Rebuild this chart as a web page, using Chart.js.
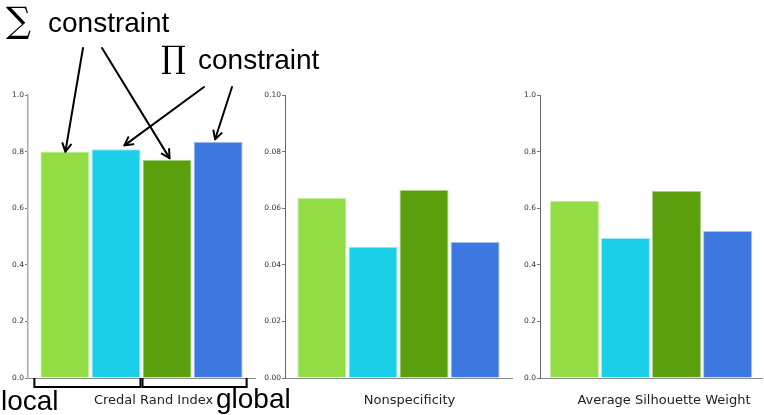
<!DOCTYPE html>
<html>
<head>
<meta charset="utf-8">
<script src="https://cdn.jsdelivr.net/npm/chart.js@4"></script>
<style>
  html, body { margin: 0; padding: 0; background: #fff; }
  #wrap { position: relative; width: 764px; height: 415px; overflow: hidden; background: #fff; }
  canvas { position: absolute; top: 0; }
</style>
</head>
<body>
<div id="wrap">
  <canvas id="c0"></canvas>
  <canvas id="c1"></canvas>
  <canvas id="c2"></canvas>
</div>
<script>
// Metrics, one panel each
const metrics = ['Credal Rand Index', 'Nonspecificity', 'Average Silhouette Weight'];

// Scores per aggregation (local/global) and constraint type (sum/product)
const localSum   = [0.800, 0.0636, 0.626];
const localProd  = [0.808, 0.0464, 0.495];
const globalSum  = [0.771, 0.0664, 0.661];
const globalProd = [0.835, 0.0481, 0.519];

// Value axis per panel
const axisMax      = [1.0, 0.10, 1.0];
const axisStep     = [0.2, 0.02, 0.2];
const tickDecimals = [1, 2, 1];

// Annotation labels
const sumLabel  = 'constraint';
const prodLabel = 'constraint';
const groupLabels = ['local', 'global'];

const seriesStyle = [
  { fill: '#92dc46', edge: '#c4ee9c' },
  { fill: '#1bcfe9', edge: '#9ae9f5' },
  { fill: '#5aa00e', edge: '#a9d083' },
  { fill: '#3d78e0', edge: '#a6c0f1' }
];
const seriesData = [localSum, localProd, globalSum, globalProd];

const H = 415;
// left/right are page coordinates; axisW is the room left of each value axis
const panels = [
  { id: 'c0', left: 0,   width: 330, axisW: 28, right: 255, catPct: 0.90, labelOffset: 12, axisColor: '#aaaaaa', axisWidth: 1.5 },
  { id: 'c1', left: 258, width: 258, axisW: 27, right: 512, catPct: 0.90, labelOffset: 11, axisColor: '#666666', axisWidth: 1 },
  { id: 'c2', left: 516, width: 248, axisW: 24, right: 762, catPct: 0.92, labelOffset: 13, axisColor: '#666666', axisWidth: 1 }
];

// Arrows, brackets and group labels around the first panel
const annotate = {
  id: 'annotate',
  afterDraw(chart) {
    const ctx = chart.ctx;
    const bars = [0, 1, 2, 3].map(i => chart.getDatasetMeta(i).data[0]);
    const base = chart.chartArea.bottom;

    ctx.save();
    ctx.fillStyle = '#000';
    ctx.textBaseline = 'alphabetic';
    ctx.textAlign = 'left';

    ctx.font = '35px "DejaVu Serif"';
    ctx.fillText('\u2211', 6, 32);
    ctx.font = '31px "DejaVu Serif"';
    ctx.fillText('\u220F', 161, 68);

    ctx.font = '28px "Liberation Sans"';
    ctx.fillText(sumLabel, 48, 32);
    ctx.fillText(prodLabel, 198, 69);

    ctx.fillText(groupLabels[0], 1, 410);
    ctx.fillText(groupLabels[1], 216, 408);

    // arrows: start point under a label, tip just above a bar
    const arrows = [
      { from: [83, 48],  bar: 0, dx: 0.5, gap: 0 },
      { from: [102, 48], bar: 2, dx: 2.5, gap: 1.7 },
      { from: [204, 87], bar: 1, dx: 8.5, gap: 4 },
      { from: [232, 87], bar: 3, dx: -3,  gap: 2.4 }
    ];
    ctx.strokeStyle = '#000';
    ctx.lineWidth = 2;
    ctx.lineCap = 'round';
    ctx.lineJoin = 'round';
    arrows.forEach(a => {
      const b = bars[a.bar];
      const tx = b.x + a.dx;
      const ty = b.y - a.gap;
      const [sx, sy] = a.from;
      ctx.beginPath();
      ctx.moveTo(sx, sy);
      ctx.lineTo(tx, ty);
      ctx.stroke();
      const ang = Math.atan2(ty - sy, tx - sx);
      const len = 9, spread = 0.5;
      ctx.beginPath();
      ctx.moveTo(tx - len * Math.cos(ang - spread), ty - len * Math.sin(ang - spread));
      ctx.lineTo(tx, ty);
      ctx.lineTo(tx - len * Math.cos(ang + spread), ty - len * Math.sin(ang + spread));
      ctx.stroke();
    });

    // brackets under the local and global pairs
    ctx.lineCap = 'butt';
    ctx.lineJoin = 'miter';
    const depth = 9;
    const left0 = bars[0].x - bars[0].width / 2 - 6;
    const right0 = bars[1].x + bars[1].width / 2;
    const left1 = bars[2].x - bars[2].width / 2;
    const right1 = bars[3].x + bars[3].width / 2 + 4;
    [[left0, right0], [left1, right1]].forEach(([l, r]) => {
      ctx.beginPath();
      ctx.moveTo(l, base);
      ctx.lineTo(l, base + depth);
      ctx.lineTo(r, base + depth);
      ctx.lineTo(r, base);
      ctx.stroke();
    });
    ctx.restore();
  }
};

panels.forEach((p, k) => {
  const cv = document.getElementById(p.id);
  cv.width = p.width;
  cv.height = H;
  cv.style.left = p.left + 'px';
  cv.style.width = p.width + 'px';
  cv.style.height = H + 'px';

  new Chart(cv, {
    type: 'bar',
    data: {
      labels: [metrics[k]],
      datasets: seriesData.map((s, i) => ({
        data: [s[k]],
        backgroundColor: seriesStyle[i].fill,
        borderColor: seriesStyle[i].edge,
        borderWidth: 1,
        borderSkipped: 'start',
        categoryPercentage: p.catPct,
        barPercentage: 0.96
      }))
    },
    options: {
      responsive: false,
      devicePixelRatio: 1,
      animation: false,
      layout: { padding: { top: 95, bottom: 0, left: 0, right: p.left + p.width - p.right } },
      plugins: { legend: { display: false }, tooltip: { enabled: false } },
      scales: {
        x: {
          afterFit: s => { s.height = H - 378; },
          grid: { display: false, drawTicks: false },
          border: { display: true, color: '#888888', width: 1 },
          ticks: {
            padding: 15,
            labelOffset: p.labelOffset,
            color: '#222',
            font: { family: 'DejaVu Sans', size: 13 }
          }
        },
        y: {
          min: 0,
          max: axisMax[k],
          afterFit: s => { s.width = p.axisW; },
          grid: { display: true, drawOnChartArea: false, drawTicks: true, tickLength: 3, color: '#777777' },
          border: { display: true, color: p.axisColor, width: p.axisWidth },
          ticks: {
            stepSize: axisStep[k],
            padding: 1,
            color: '#333',
            font: { family: 'DejaVu Sans', size: 7.5 },
            callback: v => Number(v).toFixed(tickDecimals[k])
          }
        }
      }
    },
    plugins: k === 0 ? [annotate] : []
  });
});
</script>
</body>
</html>
